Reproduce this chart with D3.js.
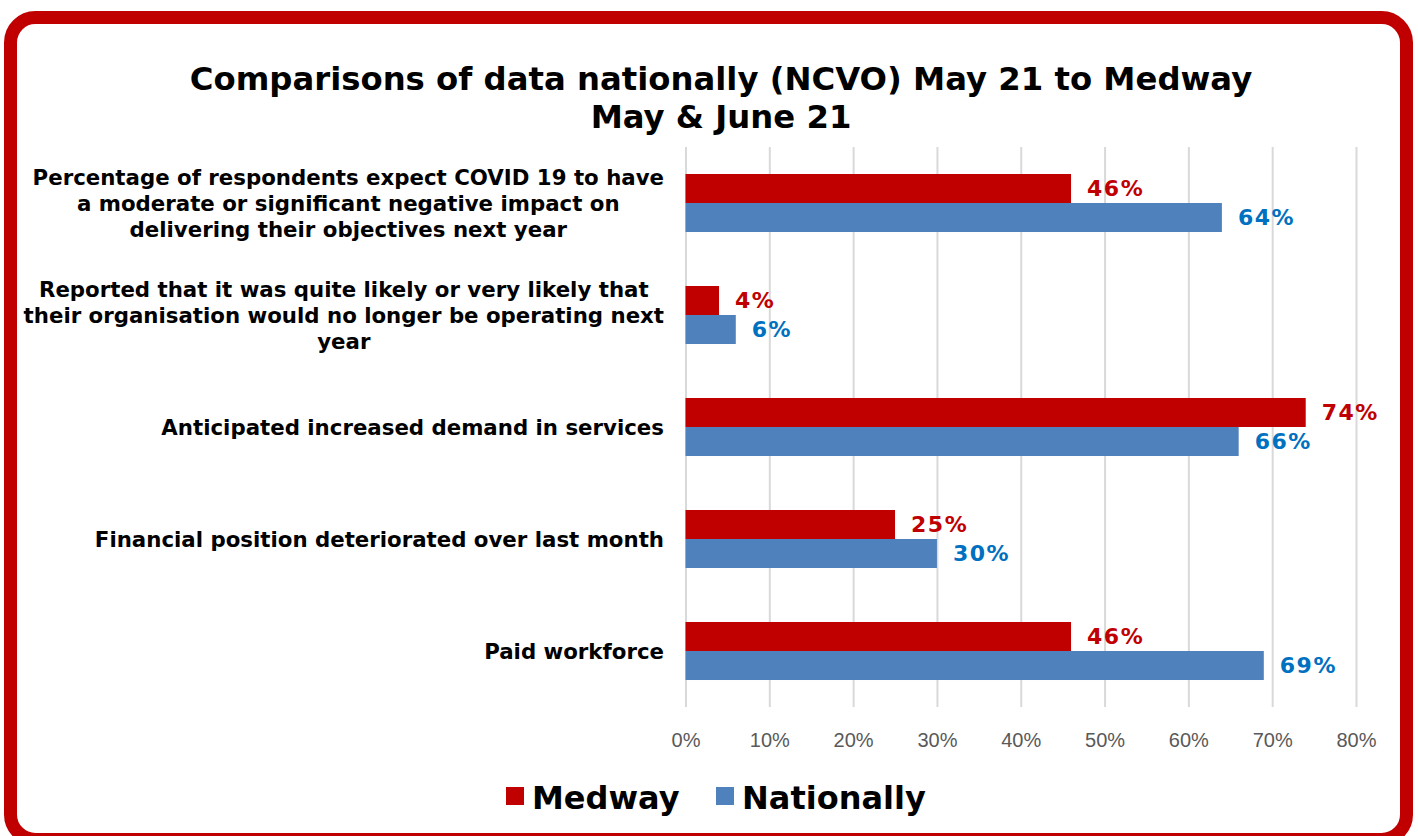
<!DOCTYPE html>
<html>
<head>
<meta charset="utf-8">
<script src="https://cdn.jsdelivr.net/npm/d3@7"></script>
<style>
  html, body { margin: 0; padding: 0; background: #ffffff; }
  svg { display: block; }
</style>
</head>
<body>
<svg id="chart" width="1418" height="836"></svg>
<script>
// Survey categories (top to bottom) and their label lines
const categories = [
  "Percentage of respondents expect COVID 19 to have|a moderate or significant negative impact on|delivering their objectives next year",
  "Reported that it was quite likely or very likely that|their organisation would no longer be operating next|year",
  "Anticipated increased demand in services",
  "Financial position deteriorated over last month",
  "Paid workforce"
];
const seriesNames = ["Medway", "Nationally"];
const medway = [0.46, 0.04, 0.74, 0.25, 0.46];
const nationally = [0.64, 0.06, 0.66, 0.30, 0.69];
const xTicks = [0, 0.1, 0.2, 0.3, 0.4, 0.5, 0.6, 0.7, 0.8];
const titleLines = ["Comparisons of data nationally (NCVO) May 21 to Medway", "May & June 21"];

const barColors = ["#C00000", "#4F81BD"];
const labelColors = ["#C00000", "#0070C0"];
const boldFont = "'DejaVu Sans', Verdana, sans-serif";
const axisFont = "'Liberation Sans Narrow', 'Liberation Sans', Arial, sans-serif";

const svg = d3.select("#chart");

// Rounded red frame
svg.append("rect")
  .attr("x", 10.5).attr("y", 17.5)
  .attr("width", 1396).attr("height", 822)
  .attr("rx", 25).attr("ry", 25)
  .attr("fill", "#fff")
  .attr("stroke", "#C00000").attr("stroke-width", 13);

// Title
svg.append("g").selectAll("text").data(titleLines).join("text")
  .attr("x", 721).attr("y", (d, i) => 90 + i * 38)
  .attr("text-anchor", "middle")
  .attr("font-family", boldFont).attr("font-weight", "bold")
  .attr("font-size", 32.3).attr("fill", "#000")
  .text(d => d);

const plot = { left: 685.5, right: 1356, top: 147, bottom: 707 };

const x = d3.scaleLinear().domain([0, 0.8]).range([plot.left, plot.right]);
const y = d3.scaleBand().domain(d3.range(categories.length))
  .range([plot.top, plot.bottom]).paddingInner(0.482).paddingOuter(0.241);
const ySub = d3.scaleBand().domain([0, 1]).range([0, y.bandwidth()]);

// Vertical gridlines
const xAxis = d3.axisBottom(x).tickValues(xTicks).tickSize(plot.bottom - plot.top)
  .tickFormat(d3.format(".0%"));
const gx = svg.append("g").attr("transform", `translate(0,${plot.top})`).call(xAxis);
gx.select(".domain").remove();
gx.selectAll(".tick line").attr("stroke", "#D9D9D9").attr("stroke-width", 2);
gx.selectAll(".tick text")
  .attr("y", plot.bottom - plot.top + 33)
  .attr("dy", "0.35em")
  .attr("fill", "#595959")
  .attr("font-family", axisFont)
  .attr("font-size", 20);

// Bars and value labels
const series = [medway, nationally];
series.forEach((vals, s) => {
  const g = svg.append("g");
  g.selectAll("rect").data(vals).join("rect")
    .attr("x", x(0))
    .attr("y", (d, i) => y(i) + ySub(s))
    .attr("width", d => x(d) - x(0))
    .attr("height", ySub.bandwidth())
    .attr("fill", barColors[s]);
  g.selectAll("text").data(vals).join("text")
    .attr("x", d => x(d) + 16)
    .attr("y", (d, i) => y(i) + ySub(s) + ySub.bandwidth() / 2)
    .attr("dy", "0.36em")
    .attr("font-family", boldFont).attr("font-weight", "bold")
    .attr("font-size", 22)
    .attr("letter-spacing", 1.5)
    .attr("fill", labelColors[s])
    .text(d => d3.format(".0%")(d));
});

// Category labels: lines centred within a block that is right-aligned to the axis
const labelRight = 664;
const lineH = 26;
const catG = svg.append("g");
categories.forEach((c, i) => {
  const lines = c.split("|");
  const cy = y(i) + y.bandwidth() / 2;
  const t = catG.append("g");
  const texts = t.selectAll("text").data(lines).join("text")
    .attr("y", (d, k) => cy + (k - (lines.length - 1) / 2) * lineH)
    .attr("dy", "0.36em")
    .attr("font-family", boldFont).attr("font-weight", "bold")
    .attr("font-size", 21.3)
    .attr("fill", "#000")
    .attr("text-anchor", "middle")
    .text(d => d);
  const maxW = d3.max(texts.nodes(), n => n.getComputedTextLength());
  texts.attr("x", labelRight - maxW / 2);
});

// Legend
const legend = svg.append("g");
const legendItems = [{ name: seriesNames[0], sq: 506 }, { name: seriesNames[1], sq: 716 }];
legendItems.forEach((it, s) => {
  legend.append("rect").attr("x", it.sq).attr("y", 787).attr("width", 18).attr("height", 18)
    .attr("fill", barColors[s]);
  legend.append("text").attr("x", it.sq + 26).attr("y", 797).attr("dy", "0.36em")
    .attr("font-family", boldFont).attr("font-weight", "bold")
    .attr("font-size", 32).attr("fill", "#000")
    .text(it.name);
});
</script>
</body>
</html>
